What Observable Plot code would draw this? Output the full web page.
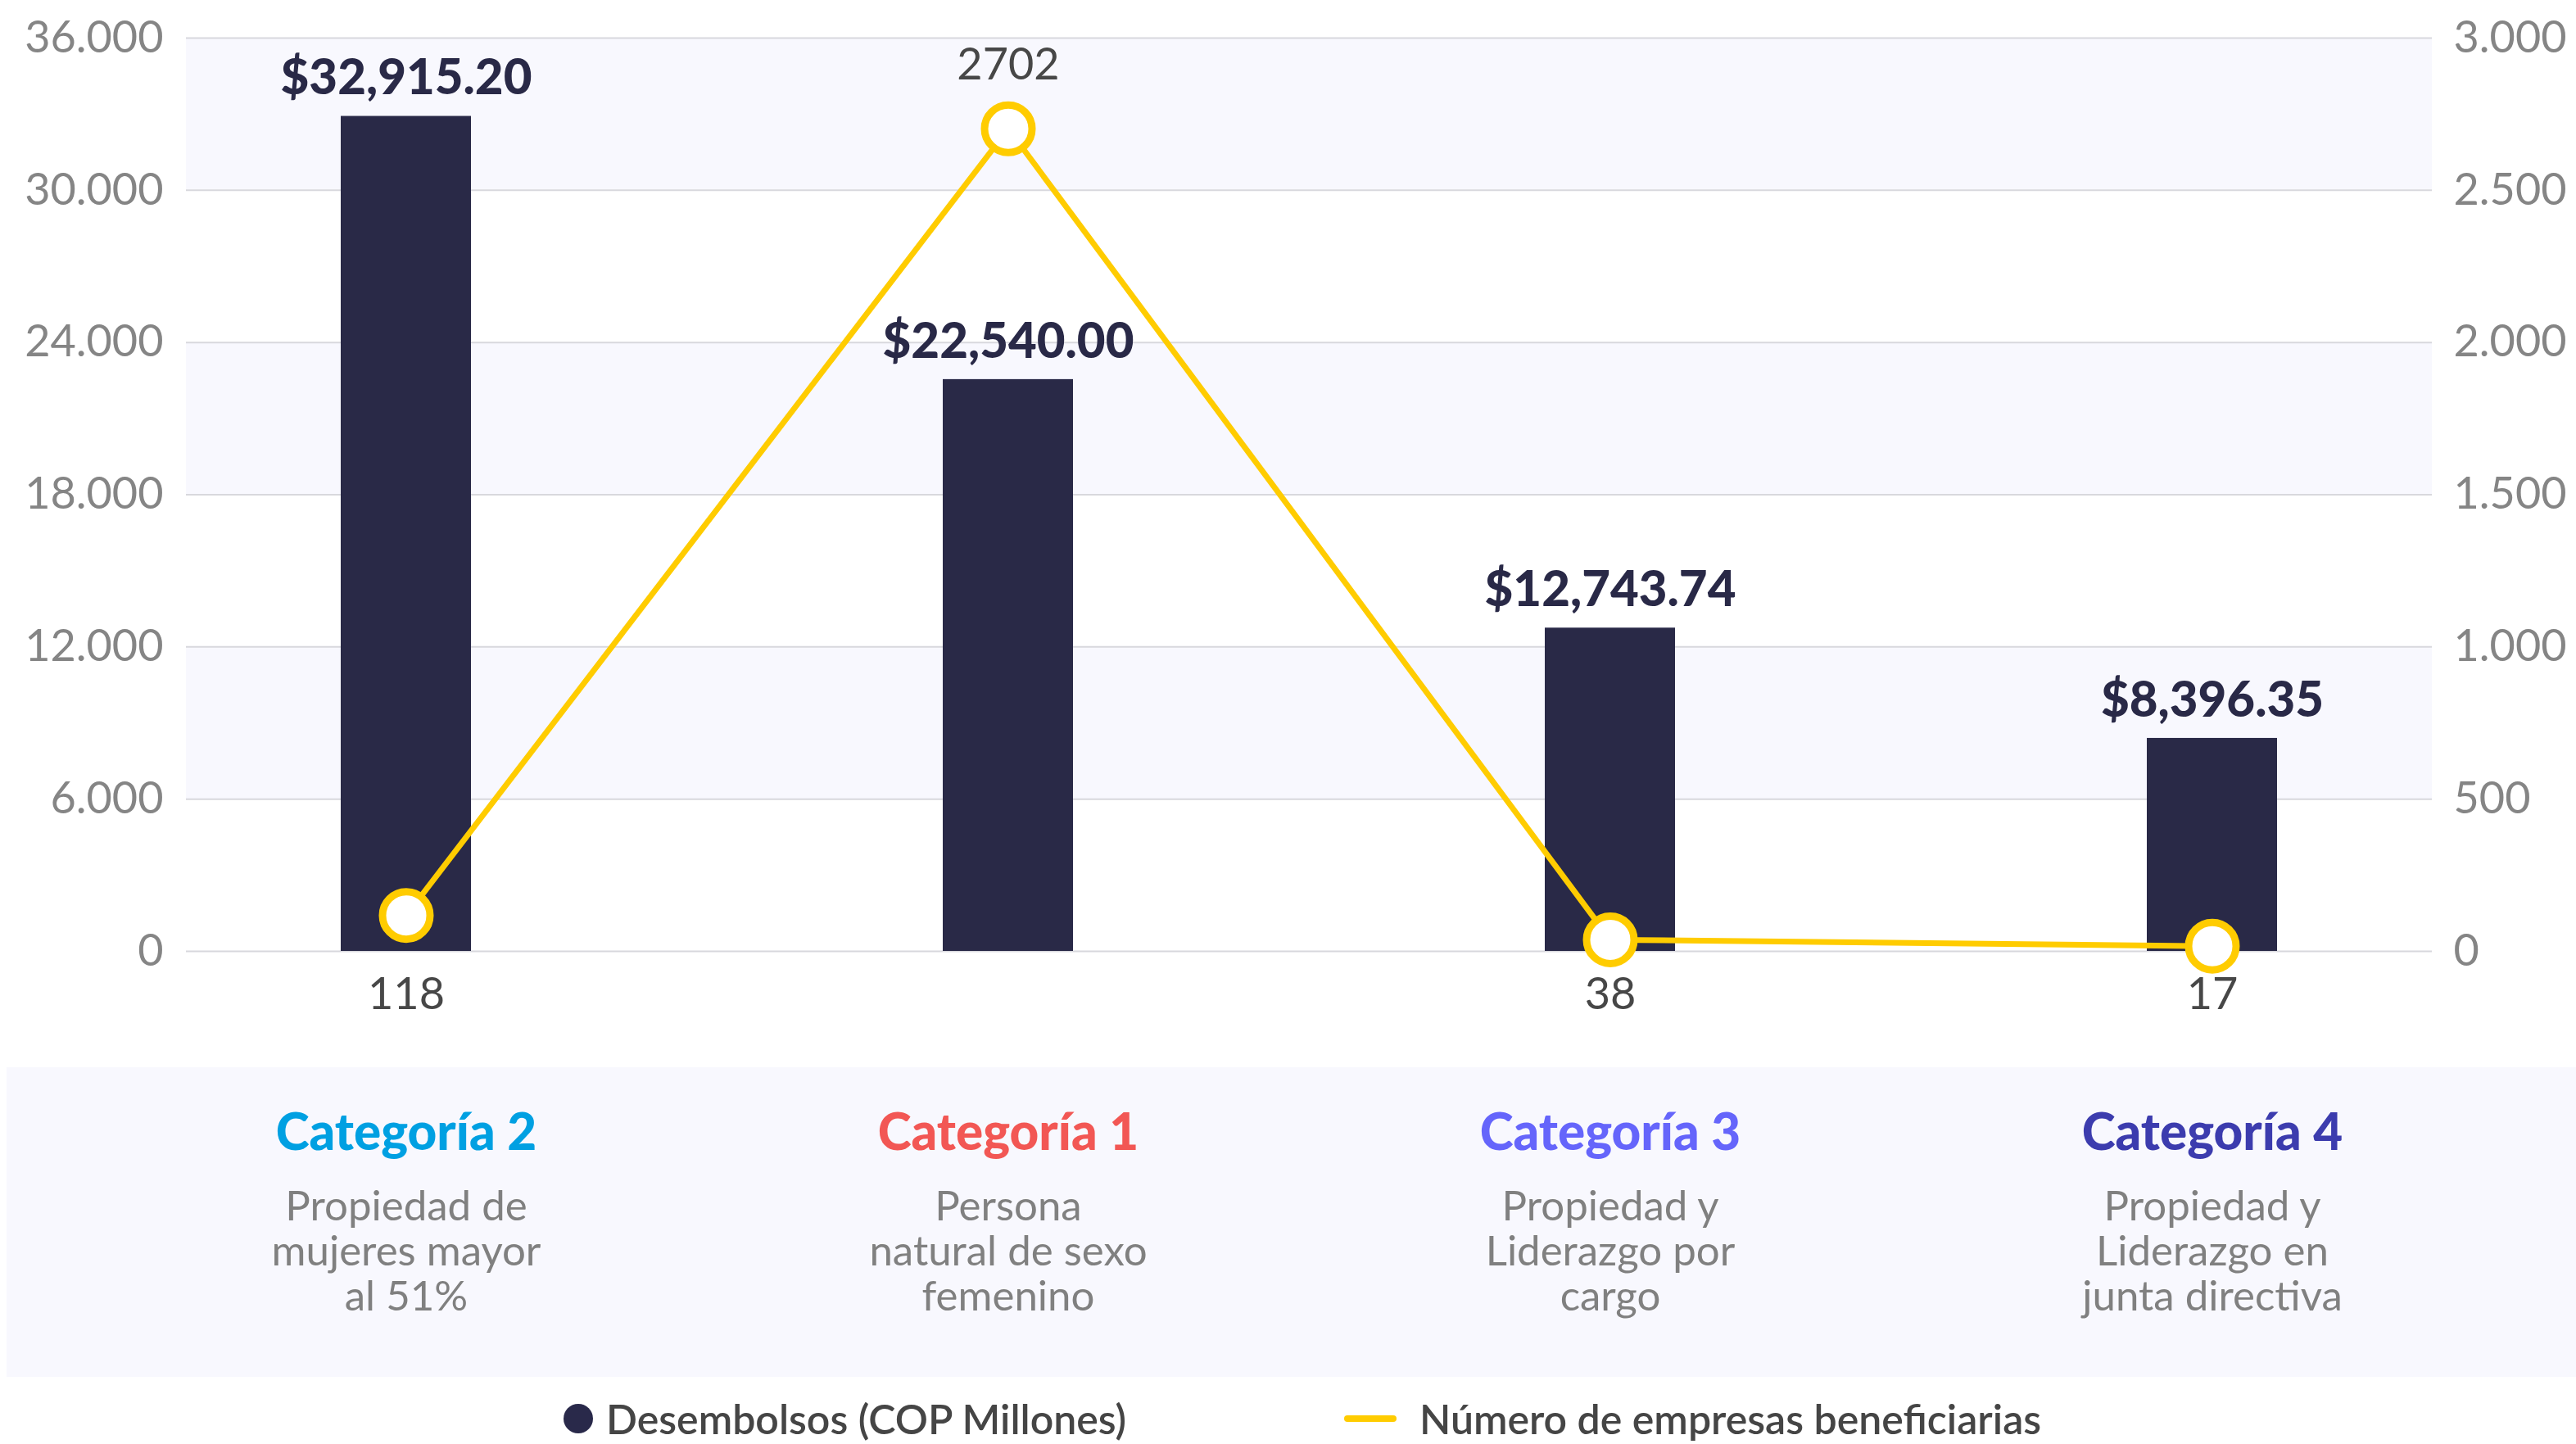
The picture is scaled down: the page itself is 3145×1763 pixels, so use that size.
<!DOCTYPE html>
<html>
<head>
<meta charset="utf-8">
<script src="https://cdn.jsdelivr.net/npm/d3@7"></script>
<script src="https://cdn.jsdelivr.net/npm/@observablehq/plot@0.6"></script>
<style>
  html, body { margin: 0; padding: 0; background: #ffffff; }
  #wrap { position: relative; width: 3145px; height: 1763px; overflow: hidden; font-family: Lato, "Noto Sans", sans-serif; }
  #panel { position: absolute; left: 8px; top: 1303px; width: 3137px; height: 378px; background: #f8f8fe; z-index: 0; }
  #chart { position: absolute; left: 0; top: 0; z-index: 1; }
  .leg { position: absolute; top: 1707px; display: flex; align-items: center; font-size: 50px; font-weight: 600; color: #454545; white-space: nowrap; line-height: 50px; height: 50px; }
  .leg .dot { width: 36px; height: 36px; border-radius: 50%; background: #29294a; margin-right: 16px; }
  .leg .ln { width: 64px; height: 8px; border-radius: 4px; background: #ffcc00; margin-right: 28px; }
</style>
</head>
<body>
<div id="wrap">
  <div id="panel"></div>
  <div id="chart"></div>
  <div class="leg" style="left:688px"><span class="dot"></span><span id="leg1"></span></div>
  <div class="leg" style="left:1641px"><span class="ln"></span><span id="leg2"></span></div>
</div>
<script>
// ---- data ----
const categories = ["Categoría 2", "Categoría 1", "Categoría 3", "Categoría 4"];
const descriptions = [
  "Propiedad de\nmujeres mayor\nal 51%",
  "Persona\nnatural de sexo\nfemenino",
  "Propiedad y\nLiderazgo por\ncargo",
  "Propiedad y\nLiderazgo en\njunta directiva"
];
const categoryColors = ["#00a0e2", "#f25754", "#6565fb", "#3c3cae"];
const desembolsos = [32915.20, 22540.00, 12743.74, 8396.35];
const empresas = [118, 2702, 38, 17];
const leftTicks = [0, 6000, 12000, 18000, 24000, 30000, 36000];
const rightTicks = [0, 500, 1000, 1500, 2000, 2500, 3000];
const shadedLo = [6000, 18000, 30000];
const shadedHi = [12000, 24000, 36000];
const seriesNames = ["Desembolsos (COP Millones)", "Número de empresas beneficiarias"];

// ---- derived ----
const leftMax = leftTicks[leftTicks.length - 1];
const rightMax = rightTicks[rightTicks.length - 1];
const ratio = leftMax / rightMax;
const data = categories.map((c, i) => ({
  cat: c, desc: descriptions[i], color: categoryColors[i],
  value: desembolsos[i], count: empresas[i]
}));
const bands = shadedLo.map((lo, i) => ({lo, hi: shadedHi[i]}));
const maxCount = d3.max(empresas);

const esLocale = d3.formatLocale({decimal: ",", thousands: ".", grouping: [3], currency: ["$", ""]});
const fmtAxis = esLocale.format(",");
const fmtMoney = d3.format("$,.2f");

document.getElementById("leg1").textContent = seriesNames[0];
document.getElementById("leg2").textContent = seriesNames[1];

const chart = Plot.plot({
  width: 3145,
  height: 1700,
  marginLeft: 227,
  marginRight: 176,
  marginTop: 46,
  marginBottom: 539,
  style: {background: "transparent", fontFamily: "Lato, 'Noto Sans', sans-serif", overflow: "visible"},
  x: {domain: categories, type: "band", paddingInner: 0.784, paddingOuter: 0.255, axis: null},
  y: {domain: [0, leftMax], axis: null},
  marks: [
    Plot.rect(bands, {y1: "lo", y2: "hi", fill: "#f8f8fe"}),
    Plot.ruleY(leftTicks, {stroke: "#d8d8dd", strokeWidth: 2}),
    Plot.axisY(leftTicks, {anchor: "left", tickSize: 0, tickPadding: 28, tickFormat: fmtAxis, fontSize: 54, fill: "#858585", label: null}),
    Plot.axisY(rightTicks.map(v => v * ratio), {anchor: "right", tickSize: 0, tickPadding: 26, tickFormat: d => fmtAxis(d / ratio), fontSize: 54, fill: "#858585", label: null}),
    Plot.barY(data, {x: "cat", y: "value", fill: "#292947"}),
    Plot.text(data, {x: "cat", y: "value", text: d => fmtMoney(d.value), dy: -46, fontSize: 60, fontWeight: 900, fill: "#292947"}),
    Plot.line(data, {x: "cat", y: d => d.count * ratio, stroke: "#ffcc00", strokeWidth: 7}),
    Plot.dot(data, {x: "cat", y: d => d.count * ratio, r: 29, fill: "white", stroke: "#ffcc00", strokeWidth: 9}),
    Plot.text(data.filter(d => d.count === maxCount), {x: "cat", y: d => d.count * ratio, text: d => String(d.count), dy: -78, fontSize: 54, fill: "#474747"}),
    Plot.text(data.filter(d => d.count !== maxCount), {x: "cat", frameAnchor: "bottom", lineAnchor: "middle", text: d => String(d.count), dy: 53, fontSize: 54, fill: "#474747"}),
    Plot.text(data, {x: "cat", frameAnchor: "bottom", lineAnchor: "middle", text: "cat", dy: 223, fontSize: 62, fontWeight: 900, fill: "color"}),
    Plot.text(data, {x: "cat", frameAnchor: "bottom", lineAnchor: "middle", text: "desc", dy: 366, fontSize: 51, lineHeight: 1.07, fill: "#808080"})
  ]
});
document.getElementById("chart").appendChild(chart);
</script>
</body>
</html>
